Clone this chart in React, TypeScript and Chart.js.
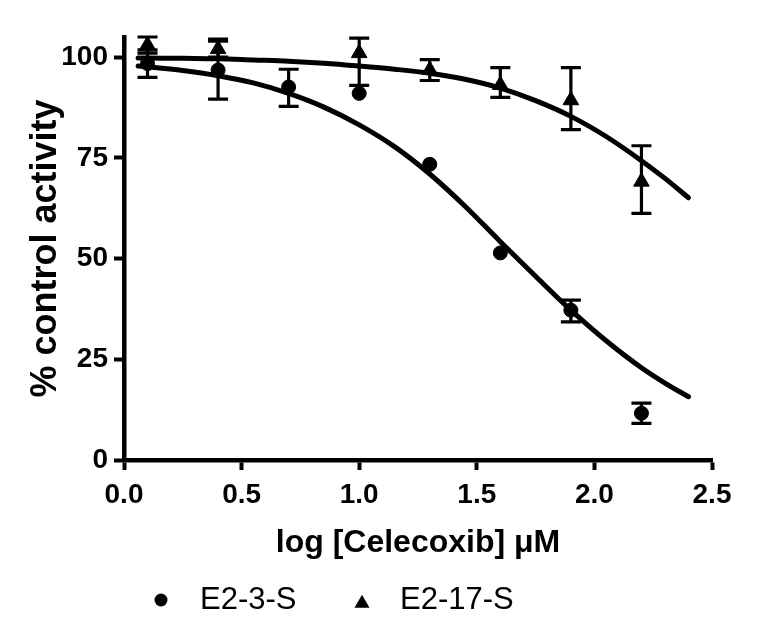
import React, { useEffect, useRef } from 'react';
import { Chart, registerables } from 'chart.js';

Chart.register(...registerables);

// ---- data ----
const xTicks = [0, 0.5, 1.0, 1.5, 2.0, 2.5];
const yTicks = [0, 25, 50, 75, 100];

const e23Doses = [0.1, 0.4, 0.7, 1.0, 1.3, 1.6, 1.9, 2.2];
const e23Mean = [98.4, 96.8, 92.6, 91.0, 73.4, 51.4, 37.2, 11.6];
const e23Low = [95.0, 89.6, 87.8, 91.0, 73.4, 51.4, 34.3, 9.1];
const e23High = [101.8, 104.0, 97.0, 91.0, 73.4, 51.4, 39.7, 14.1];

const e17Doses = [0.1, 0.4, 1.0, 1.3, 1.6, 1.9, 2.2];
const e17Mean = [103.0, 102.0, 101.0, 96.8, 93.1, 89.3, 69.1];
const e17Low = [101.0, 100.0, 93.0, 94.2, 90.0, 82.0, 61.2];
const e17High = [105.0, 104.5, 104.7, 99.4, 97.4, 97.4, 78.0];

const fitX = [0.06, 0.1, 0.25, 0.4, 0.55, 0.7, 0.85, 1.0, 1.15, 1.3, 1.45, 1.6, 1.75, 1.9, 2.05, 2.2, 2.3, 2.4];
const e23Fit = [97.8, 97.6, 96.7, 95.4, 93.6, 91.0, 87.6, 83.2, 77.8, 71.0, 63.0, 54.2, 45.6, 37.2, 29.6, 22.9, 19.1, 15.7];
const e17Fit = [99.8, 99.8, 99.7, 99.6, 99.3, 99.0, 98.5, 97.8, 97.0, 96.0, 94.5, 92.3, 89.2, 85.3, 80.3, 74.3, 69.9, 65.1];

const seriesNames = ['E2-3-S', 'E2-17-S'];
const xTitle = 'log [Celecoxib] μM';
const yTitle = '% control activity';

const FONT = '"Liberation Sans", Arial, Helvetica, sans-serif';

const pts = (xs: number[], ys: number[]) => xs.map((x, i) => ({ x, y: ys[i] }));

export default function App() {
  const ref = useRef<HTMLCanvasElement>(null);

  useEffect(() => {
    const errorBarsPlugin = {
      id: 'errorBars',
      beforeDatasetsDraw(chart: any) {
        const { ctx } = chart;
        const xs = chart.scales.x;
        const ys = chart.scales.y;
        const groups = [
          { d: e23Doses, lo: e23Low, hi: e23High },
          { d: e17Doses, lo: e17Low, hi: e17High },
        ];
        ctx.save();
        ctx.strokeStyle = '#000';
        ctx.lineWidth = 3.2;
        const cap = 10;
        groups.forEach((g) => {
          g.d.forEach((dx, i) => {
            if (g.hi[i] <= g.lo[i]) return;
            const px = xs.getPixelForValue(dx);
            const pl = ys.getPixelForValue(g.lo[i]);
            const ph = ys.getPixelForValue(g.hi[i]);
            ctx.beginPath();
            ctx.moveTo(px, pl);
            ctx.lineTo(px, ph);
            ctx.moveTo(px - cap, pl);
            ctx.lineTo(px + cap, pl);
            ctx.moveTo(px - cap, ph);
            ctx.lineTo(px + cap, ph);
            ctx.stroke();
          });
        });
        ctx.restore();
      },
    };

    const legendPlugin = {
      id: 'bottomLegend',
      afterDraw(chart: any) {
        const { ctx } = chart;
        ctx.save();
        ctx.fillStyle = '#000';
        ctx.font = `normal 31px ${FONT}`;
        ctx.textBaseline = 'middle';
        ctx.textAlign = 'left';
        // item 1: circle
        ctx.beginPath();
        ctx.arc(153, 592, 6.5, 0, Math.PI * 2);
        ctx.fill();
        ctx.fillText(seriesNames[0], 192, 592);
        // item 2: triangle
        const tx = 354, ty = 595.5, r = 8.7;
        ctx.beginPath();
        ctx.moveTo(tx, ty - r);
        ctx.lineTo(tx + r * Math.sqrt(3) / 2, ty + r / 2);
        ctx.lineTo(tx - r * Math.sqrt(3) / 2, ty + r / 2);
        ctx.closePath();
        ctx.fill();
        ctx.fillText(seriesNames[1], 392, 592);
        ctx.restore();
      },
    };

    const chart = new Chart(ref.current as HTMLCanvasElement, {
      type: 'scatter',
      data: {
        datasets: [
          {
            label: seriesNames[0],
            data: pts(e23Doses, e23Mean),
            pointStyle: 'circle',
            pointRadius: 7,
            backgroundColor: '#000',
            borderColor: '#000',
            borderWidth: 1,
            showLine: false,
            order: 0,
            clip: false,
          },
          {
            label: seriesNames[1],
            data: pts(e17Doses, e17Mean),
            pointStyle: 'triangle',
            pointRadius: 9,
            backgroundColor: '#000',
            borderColor: '#000',
            borderWidth: 1,
            showLine: false,
            order: 0,
            clip: false,
          },
          {
            label: seriesNames[0] + ' fit',
            data: pts(fitX, e23Fit),
            showLine: true,
            pointRadius: 0,
            borderColor: '#000',
            borderWidth: 5,
            borderCapStyle: 'round',
            cubicInterpolationMode: 'monotone',
            fill: false,
            order: 1,
            clip: false,
          },
          {
            label: seriesNames[1] + ' fit',
            data: pts(fitX, e17Fit),
            showLine: true,
            pointRadius: 0,
            borderColor: '#000',
            borderWidth: 5,
            borderCapStyle: 'round',
            cubicInterpolationMode: 'monotone',
            fill: false,
            order: 1,
            clip: false,
          },
        ],
      } as any,
      options: {
        responsive: true,
        maintainAspectRatio: false,
        animation: false,
        layout: { padding: { top: 29, right: 39, bottom: 57, left: 0 } },
        plugins: {
          legend: { display: false },
          tooltip: { enabled: false },
        },
        scales: {
          x: {
            type: 'linear',
            min: 0,
            max: 2.5,
            afterBuildTicks: (s: any) => {
              s.ticks = xTicks.map((v) => ({ value: v }));
            },
            afterFit: (s: any) => {
              s.height = 110;
            },
            ticks: {
              callback: (v: any) => Number(v).toFixed(1),
              font: { family: FONT, size: 28, weight: 'bold' },
              color: '#000',
              padding: 8,
              maxRotation: 0,
              autoSkip: false,
            },
            grid: {
              drawOnChartArea: false,
              drawTicks: true,
              tickLength: 10,
              tickWidth: 4,
              tickColor: '#000',
              color: '#000',
            },
            border: { display: true, width: 4.5, color: '#000' },
            title: {
              display: true,
              text: xTitle,
              color: '#000',
              font: { family: FONT, size: 32, weight: 'bold' },
              padding: { top: 0, bottom: 8 },
            },
          },
          y: {
            type: 'linear',
            min: 0,
            max: 105,
            afterBuildTicks: (s: any) => {
              s.ticks = yTicks.map((v) => ({ value: v }));
            },
            afterFit: (s: any) => {
              s.width = 116;
            },
            ticks: {
              callback: (v: any) => String(v),
              font: { family: FONT, size: 28, weight: 'bold' },
              color: '#000',
              padding: 6,
              autoSkip: false,
            },
            grid: {
              drawOnChartArea: false,
              drawTicks: true,
              tickLength: 10,
              tickWidth: 4,
              tickColor: '#000',
              color: '#000',
            },
            border: { display: true, width: 4.5, color: '#000' },
            title: {
              display: true,
              text: yTitle,
              color: '#000',
              font: { family: FONT, size: 36, weight: 'bold' },
              padding: { top: 16, bottom: 0 },
            },
          },
        },
      } as any,
      plugins: [errorBarsPlugin, legendPlugin],
    });
    return () => chart.destroy();
  }, []);

  return (
    <div style={{ position: 'relative', width: 743, height: 619 }}>
      <canvas ref={ref} />
    </div>
  );
}
